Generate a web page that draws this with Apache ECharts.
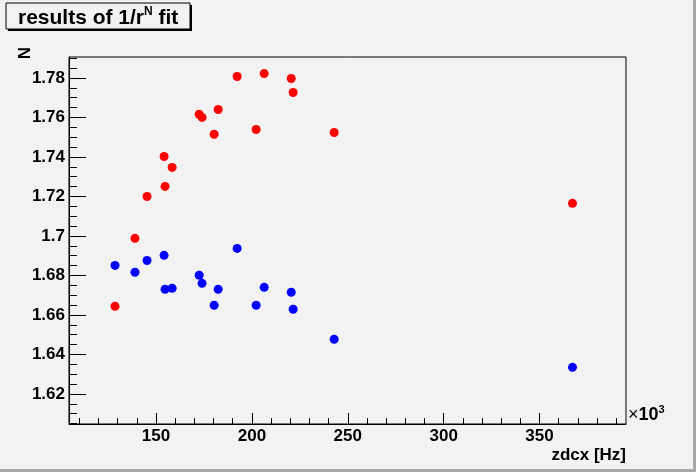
<!DOCTYPE html>
<html>
<head>
<meta charset="utf-8">
<script src="https://cdn.jsdelivr.net/npm/echarts@6/dist/echarts.min.js"></script>
<style>
html,body{margin:0;padding:0;background:#f2f2f2;}
#chart{width:696px;height:472px;}
</style>
</head>
<body>
<div id="chart"></div>
<script>
// Data (zdcx in units of 10^3 Hz)
const zdcx = [128.6, 139.0, 145.3, 154.2, 154.7, 158.4, 172.5, 174.0, 180.3, 182.4, 192.3, 202.2, 206.4, 220.5, 221.5, 242.9, 367.2];
const nRed = [1.6644, 1.6988, 1.7200, 1.7402, 1.7251, 1.7347, 1.7616, 1.7600, 1.7515, 1.7640, 1.7807, 1.7539, 1.7822, 1.7797, 1.7726, 1.7524, 1.7165];
const nBlue = [1.6851, 1.6816, 1.6876, 1.6902, 1.6730, 1.6735, 1.6801, 1.6760, 1.6649, 1.6730, 1.6937, 1.6649, 1.6740, 1.6715, 1.6629, 1.6477, 1.6335];

const xMajorTicks = [150, 200, 250, 300, 350];
const xMinorTicks = [110, 120, 130, 140, 160, 170, 180, 190, 210, 220, 230, 240, 260, 270, 280, 290, 310, 320, 330, 340, 360, 370, 380, 390];
const yMajorTicks = [1.62, 1.64, 1.66, 1.68, 1.70, 1.72, 1.74, 1.76, 1.78];
const yMinorTicks = [1.605, 1.61, 1.615, 1.625, 1.63, 1.635, 1.645, 1.65, 1.655, 1.665, 1.67, 1.675, 1.685, 1.69, 1.695, 1.705, 1.71, 1.715, 1.725, 1.73, 1.735, 1.745, 1.75, 1.755, 1.765, 1.77, 1.775, 1.785, 1.79];

const xRange = [104.6, 395.1];
const yRange = [1.6048, 1.7906];

const FONT = 'Liberation Sans';
const chart = echarts.init(document.getElementById('chart'), null, {renderer: 'canvas'});

function pairs(xs, ys) { return xs.map((x, i) => [x, ys[i]]); }

const labelStyle = {color: '#000', fontFamily: FONT, fontWeight: 'bold', fontSize: 17};

chart.setOption({
  backgroundColor: '#f2f2f2',
  animation: false,
  grid: {left: 69, right: 70, top: 57, bottom: 48, show: true, borderColor: '#000', borderWidth: 1, backgroundColor: 'transparent'},
  xAxis: [
    {
      type: 'value', min: xRange[0], max: xRange[1],
      axisLine: {show: true, lineStyle: {color: '#000', width: 1}},
      axisTick: {show: true, inside: true, length: 11, customValues: xMajorTicks, lineStyle: {color: '#000'}},
      axisLabel: Object.assign({show: true, margin: 4, customValues: xMajorTicks, formatter: v => String(Math.round(v))}, labelStyle),
      splitLine: {show: false}
    },
    {
      type: 'value', min: xRange[0], max: xRange[1], position: 'bottom',
      axisLine: {show: false},
      axisTick: {show: true, inside: true, length: 6, customValues: xMinorTicks, lineStyle: {color: '#000'}},
      axisLabel: {show: false},
      splitLine: {show: false}
    }
  ],
  yAxis: [
    {
      type: 'value', min: yRange[0], max: yRange[1],
      axisLine: {show: true, lineStyle: {color: '#000', width: 1}},
      axisTick: {show: true, inside: true, length: 17, customValues: yMajorTicks, lineStyle: {color: '#000'}},
      axisLabel: Object.assign({show: true, margin: 4, customValues: yMajorTicks, formatter: v => String(parseFloat(v.toFixed(2)))}, labelStyle),
      splitLine: {show: false}
    },
    {
      type: 'value', min: yRange[0], max: yRange[1], position: 'left',
      axisLine: {show: false},
      axisTick: {show: true, inside: true, length: 8, customValues: yMinorTicks, lineStyle: {color: '#000'}},
      axisLabel: {show: false},
      splitLine: {show: false}
    }
  ],
  series: [
    {type: 'scatter', name: 'red', data: pairs(zdcx, nRed), symbol: 'circle', symbolSize: 9, itemStyle: {color: '#ff0000', opacity: 1}, xAxisIndex: 0, yAxisIndex: 0},
    {type: 'scatter', name: 'blue', data: pairs(zdcx, nBlue), symbol: 'circle', symbolSize: 9, itemStyle: {color: '#0000ff', opacity: 1}, xAxisIndex: 0, yAxisIndex: 0}
  ],
  graphic: [
    // canvas bevel
    {type: 'rect', shape: {x: 0, y: 469, width: 696, height: 3}, style: {fill: '#a8a8a8'}, silent: true},
    {type: 'rect', shape: {x: 693, y: 0, width: 3, height: 472}, style: {fill: '#a8a8a8'}, silent: true},
    // title pave
    {type: 'rect', shape: {x: 8, y: 5, width: 184, height: 26}, style: {fill: '#000'}, silent: true},
    {type: 'rect', shape: {x: 6, y: 3, width: 184, height: 26}, style: {fill: '#f2f2f2', stroke: '#000', lineWidth: 1}, silent: true},
    {type: 'text', x: 18, y: 6, silent: true, style: {
      text: '{m|results of 1/r}{s|N}{m| fit}',
      rich: {
        m: {fontFamily: FONT, fontWeight: 'bold', fontSize: 21, lineHeight: 23, verticalAlign: 'bottom', fill: '#000'},
        s: {fontFamily: FONT, fontWeight: 'bold', fontSize: 12, lineHeight: 12, verticalAlign: 'top', fill: '#000'}
      }
    }},
    // y axis title
    {type: 'text', x: 25, y: 53, rotation: Math.PI / 2, silent: true, style: {
      text: 'N', fontFamily: FONT, fontWeight: 'bold', fontSize: 17, fill: '#000', align: 'center', verticalAlign: 'middle'
    }},
    // x axis title
    {type: 'text', x: 626, y: 455, silent: true, style: {
      text: 'zdcx [Hz]', fontFamily: FONT, fontWeight: 'bold', fontSize: 17, fill: '#000', align: 'right', verticalAlign: 'middle'
    }},
    // exponent
    {type: 'text', x: 628, y: 404, silent: true, style: {
      text: '{x|×}{m|10}{s|3}',
      rich: {
        x: {fontFamily: FONT, fontWeight: 'normal', fontSize: 18, lineHeight: 20, verticalAlign: 'bottom', fill: '#000'},
        m: {fontFamily: FONT, fontWeight: 'bold', fontSize: 18, lineHeight: 20, verticalAlign: 'bottom', fill: '#000'},
        s: {fontFamily: FONT, fontWeight: 'bold', fontSize: 11, lineHeight: 11, verticalAlign: 'top', fill: '#000'}
      }
    }}
  ]
});
</script>
</body>
</html>
